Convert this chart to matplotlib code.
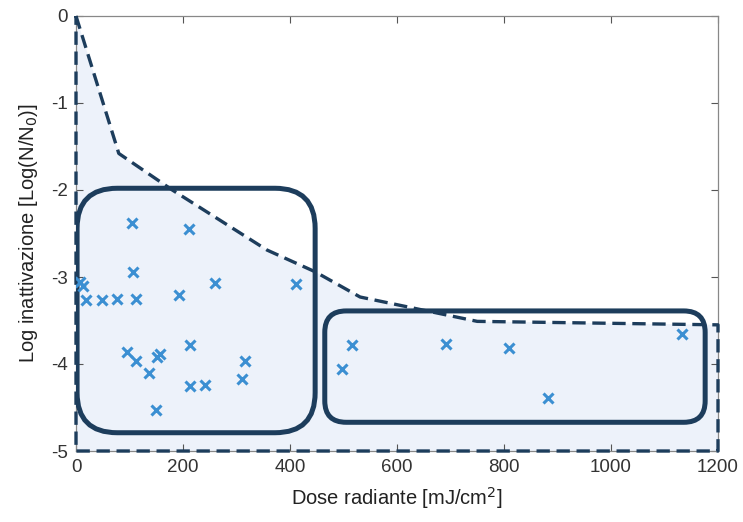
import matplotlib
matplotlib.use("Agg")
import matplotlib.pyplot as plt
from matplotlib.patches import FancyBboxPatch, Polygon
import numpy as np

plt.rcParams['font.family'] = ['Liberation Sans', 'DejaVu Sans']

# Scatter data
dose = [8, 14, 19, 48, 77, 107, 113, 95, 112, 137, 151, 157, 150, 193, 214, 214,
        241, 260, 316, 310, 412, 497, 515, 105, 212, 691, 809, 883, 1132]
logred = [-3.06, -3.10, -3.27, -3.27, -3.25, -2.94, -3.25, -3.86, -3.97, -4.10, -3.92,
          -3.89, -4.53, -3.21, -3.78, -4.25, -4.24, -3.07, -3.97, -4.17, -3.08, -4.06,
          -3.78, -2.38, -2.45, -3.77, -3.82, -4.39, -3.65]

# Envelope (dashed boundary)
env_x = [0, 80, 180, 357, 447, 531, 750, 1200, 1200, 0, 0]
env_y = [0, -1.58, -2.0, -2.69, -2.94, -3.23, -3.51, -3.55, -5, -5, 0]

# Rounded boxes: (x0, y0, x1, y1)
box1 = (2, -4.79, 447, -1.98)
box2 = (465, -4.67, 1176, -3.39)

xticks = [0, 200, 400, 600, 800, 1000, 1200]
yticks = [0, -1, -2, -3, -4, -5]

W, H = 743, 522
fig = plt.figure(figsize=(W / 100, H / 100), dpi=100)
ax = fig.add_axes([76 / W, 1 - 451 / H, (718 - 76) / W, (451 - 16) / H])
ax.set_xlim(0, 1200)
ax.set_ylim(-5, 0)

navy = '#1d3d5c'
ax.add_patch(Polygon(np.column_stack([env_x, env_y]), closed=True,
                     facecolor='#edf2fa', edgecolor='none', zorder=1))

# aspect: data-y per pixel / data-x per pixel
aspect = (5 / 435) / (1200 / 642)
for (x0, y0, x1, y1), r in [(box1, 75), (box2, 40)]:
    p = FancyBboxPatch((x0, y0), x1 - x0, y1 - y0,
                       boxstyle=f"round,pad=0,rounding_size={r}",
                       mutation_aspect=aspect, facecolor='none',
                       edgecolor=navy, linewidth=3.6, zorder=3.5)
    ax.add_patch(p)

ax.plot(env_x, env_y, color=navy, linewidth=2.4, linestyle=(0, (4, 2)),
        zorder=3, clip_on=False)

ax.plot(dose, logred, linestyle='none', marker='x', markersize=6.5,
        markeredgewidth=2.2, color='#3b8fd2', zorder=4)

ax.set_xticks(xticks)
ax.set_yticks(yticks)
ax.set_xticklabels([str(v) for v in xticks])
ax.set_yticklabels([str(v) for v in yticks])
ax.tick_params(direction='in', length=5, width=0.8, colors='#555555',
               labelsize=13.5, labelcolor='#333333', top=True, right=True,
               pad=6)
for s in ax.spines.values():
    s.set_color('#888888')
    s.set_linewidth(0.9)

ax.set_xlabel('Dose radiante [mJ/cm$^2$]', fontsize=14.5, color='#222222', labelpad=6)
ax.set_ylabel('Log inattivazione [Log(N/N$_0$)]', fontsize=14.5, color='#222222', labelpad=8)

fig.savefig('out.png', dpi=100)
